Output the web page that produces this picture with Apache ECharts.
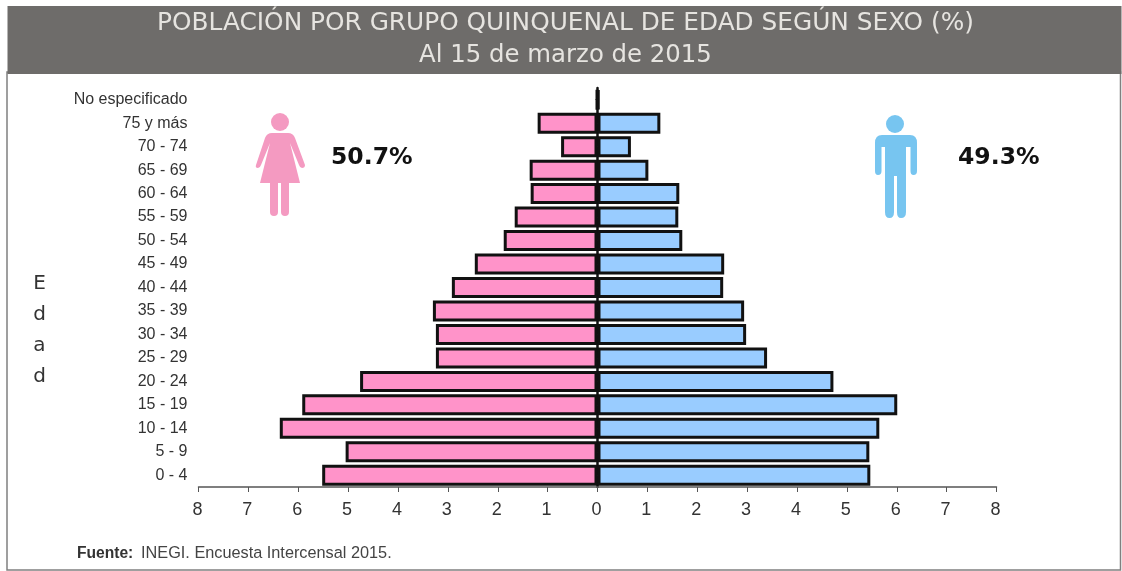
<!DOCTYPE html>
<html><head><meta charset="utf-8">
<style>html,body{margin:0;padding:0;background:#fff}#c{width:1122px;height:571px}</style>
<script src="https://cdn.jsdelivr.net/npm/echarts@6/dist/echarts.min.js"></script>
</head><body><div id="c"></div>
<script>
const categories = ['0 - 4','5 - 9','10 - 14','15 - 19','20 - 24','25 - 29','30 - 34','35 - 39','40 - 44','45 - 49','50 - 54','55 - 59','60 - 64','65 - 69','70 - 74','75 y más','No especificado'];
const mujeres = [5.52,5.05,6.37,5.92,4.76,3.24,3.24,3.3,2.92,2.46,1.88,1.66,1.34,1.36,0.73,1.2,0.02];
const hombres = [5.47,5.45,5.65,6.01,4.73,3.4,2.98,2.94,2.52,2.54,1.7,1.62,1.64,1.02,0.67,1.26,0.03];
const titulo = 'POBLACIÓN POR GRUPO QUINQUENAL DE EDAD SEGÚN SEXO (%)';
const subtitulo = 'Al 15 de marzo de 2015';
const fuenteB = 'Fuente:';
const fuente = 'INEGI. Encuesta Intercensal 2015.';
const pctM = '50.7%', pctH = '49.3%';
const sans = '"Liberation Sans", Arial, sans-serif';
const dj = '"DejaVu Sans", sans-serif';
const womanPath = 'M272 133 L288 133 Q293 133 295 138 L305 165 Q305 168 302 168 Q300 168 299 165 L290 143 L300 183 L289 183 L289 212 Q289 216 285 216 Q281 216 281 212 L281 183 L278 183 L278 212 Q278 216 274 216 Q270 216 270 212 L270 183 L260 183 L270 143 L261 165 Q260 168 258 168 Q255 168 256 165 L265 138 Q267 133 272 133 Z';
const manPath = 'M882 135 L910 135 Q917 135 917 143 L917 171 Q917 175 913.5 175 Q910.5 175 910.5 171 L910.5 147 L906 147 L906 212 Q906 218 901 218 Q897 218 897 212 L897 176 L894 176 L894 212 Q894 218 889.5 218 Q885 218 885 212 L885 147 L881.5 147 L881.5 171 Q881.5 175 878 175 Q875 175 875 171 L875 143 Q875 135 882 135 Z';
echarts.graphic.registerShape('womanIcon', echarts.graphic.extendPath(womanPath, {}));
echarts.graphic.registerShape('manIcon', echarts.graphic.extendPath(manPath, {}));
const chart = echarts.init(document.getElementById('c'), null, {renderer:'canvas'});
const barStyle = c => ({color:c, borderColor:'#111', borderWidth:3});
chart.setOption({
  animation:false,
  backgroundColor:'#fff',
  grid:{left:198.5,right:125.5,top:88,bottom:84,containLabel:false},
  xAxis:{type:'value',min:-8,max:8,interval:1,
    axisLine:{show:true,lineStyle:{color:'#555',width:1.5},onZero:false},
    axisTick:{show:true,length:5,lineStyle:{color:'#555',width:1}},
    splitLine:{show:false},
    axisLabel:{formatter:v=>String(Math.abs(v)),color:'#333',fontFamily:sans,fontSize:18,margin:14,padding:[0,2,0,0],showMinLabel:true,showMaxLabel:true}},
  yAxis:[
    {type:'category',data:categories,position:'left',offset:11,
     axisLine:{show:false,onZero:false},axisTick:{show:false},
     axisLabel:{color:'#333',fontFamily:sans,fontSize:16,margin:0,interval:0,padding:[3,0,0,0]}},
    {type:'category',data:categories,position:'left',
     axisLine:{show:true,onZero:true,lineStyle:{color:'#111',width:2.5}},
     axisTick:{show:true,inside:false,alignWithLabel:true,length:2,lineStyle:{color:'#333'}},
     axisLabel:{show:false}}
  ],
  series:[
    {name:'Mujeres',type:'bar',yAxisIndex:0,stack:'p',barWidth:21,data:mujeres.map(v=>-v),itemStyle:barStyle('#FF93C9')},
    {name:'Hombres',type:'bar',yAxisIndex:0,stack:'p',barWidth:21,data:hombres,itemStyle:barStyle('#99CCFF')}
  ],
  graphic:[
    {type:'rect',z:-1,silent:true,shape:{x:7,y:72,width:1113.5,height:498},style:{fill:'#fff',stroke:'#808080',lineWidth:1.5}},
    {type:'rect',z:0,silent:true,shape:{x:7.5,y:6,width:1114,height:68},style:{fill:'#6E6C6A'}},
    {type:'text',z:1,x:565.5,y:11,style:{text:titulo,font:'24.8px '+dj,fill:'#E6E4E0',align:'center',verticalAlign:'top'}},
    {type:'text',z:1,x:565.5,y:44,style:{text:subtitulo,font:'24.4px '+dj,fill:'#E6E4E0',align:'center',verticalAlign:'top'}},
    {type:'text',z:1,x:39.5,y:268,style:{text:'E\nd\na\nd',font:'20px '+dj,fill:'#333',align:'center',lineHeight:31}},
    {type:'text',z:1,x:331,y:146,style:{text:pctM,font:'bold 23.5px '+dj,fill:'#111'}},
    {type:'text',z:1,x:958,y:146,style:{text:pctH,font:'bold 23.5px '+dj,fill:'#111'}},
    {type:'text',z:1,x:77,y:546,style:{text:fuenteB,font:'bold 15.6px '+sans,fill:'#333'}},
    {type:'text',z:1,x:141,y:546,style:{text:fuente,font:'16.3px '+sans,fill:'#444'}},
    {type:'circle',z:1,shape:{cx:280,cy:122,r:9},style:{fill:'#F49AC1'}},
    {type:'womanIcon',z:1,style:{fill:'#F49AC1'}},
    {type:'circle',z:1,shape:{cx:895,cy:124,r:9},style:{fill:'#77C5F0'}},
    {type:'manIcon',z:1,style:{fill:'#77C5F0'}}
  ]
});
</script></body></html>
